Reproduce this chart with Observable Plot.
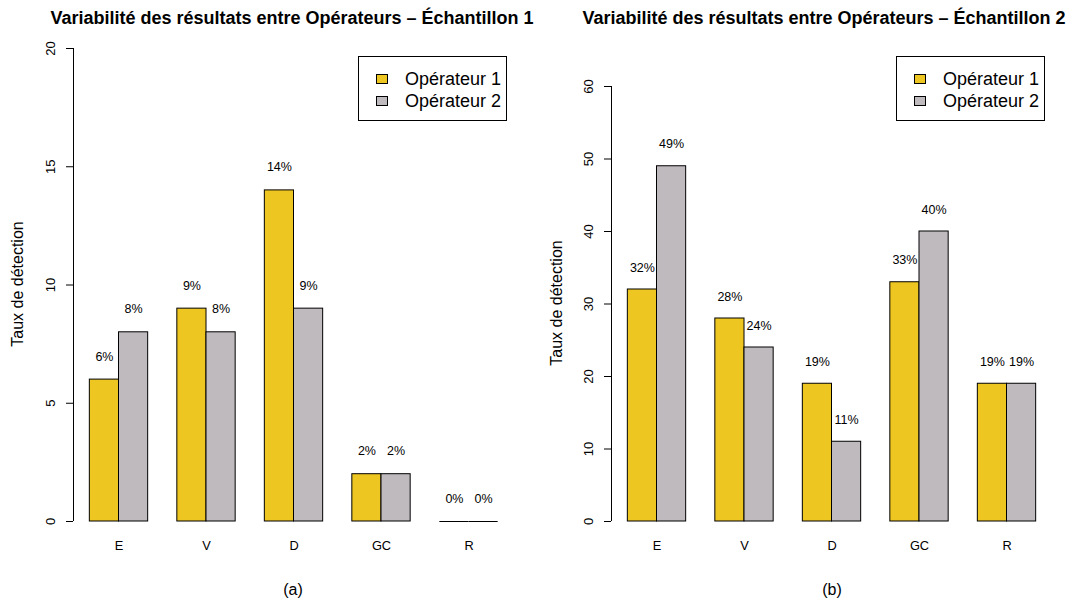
<!DOCTYPE html>
<html>
<head>
<meta charset="utf-8">
<script src="https://cdn.jsdelivr.net/npm/d3@7"></script>
<script src="https://cdn.jsdelivr.net/npm/@observablehq/plot@0.6"></script>
<style>
  body { margin: 0; background: #fff; }
  #fig { position: relative; width: 1081px; height: 604px; overflow: hidden;
         font-family: "Liberation Sans", Arial, Helvetica, sans-serif; color: #000; }
  .panel { position: absolute; top: 0; }
  .panel svg { font-family: "Liberation Sans", Arial, Helvetica, sans-serif; }
  .centered { position: absolute; white-space: nowrap; transform: translate(-50%, -50%); line-height: 1; }
  .title { font-weight: bold; font-size: 18px; }
  .ylab { font-size: 16px; transform: translate(-50%, -50%) rotate(-90deg); }
  .caption { font-size: 16px; }
  .legend { position: absolute; border: 1px solid #000; background: #fff; box-sizing: border-box; }
  .legend .item { position: absolute; left: 17px; display: flex; align-items: center; font-size: 18px; line-height: 1; }
  .legend .swatch { width: 12px; height: 10px; border: 1px solid #000; box-sizing: border-box; margin-right: 17px; }
</style>
</head>
<body>
<div id="fig"></div>
<script>
// Detection rates (%) per defect category, for each operator and each sample
const categories = ["E", "V", "D", "GC", "R"];
const operators = ["Opérateur 1", "Opérateur 2"];
const sample1Op1 = [6, 9, 14, 2, 0];
const sample1Op2 = [8, 8, 9, 2, 0];
const sample2Op1 = [32, 28, 19, 33, 19];
const sample2Op2 = [49, 24, 11, 40, 19];
const yTicks1 = [0, 5, 10, 15, 20];
const yTicks2 = [0, 10, 20, 30, 40, 50, 60];
const colors = ["#EEC622", "#BFBABE"];
const titles = [
  "Variabilité des résultats entre Opérateurs – Échantillon 1",
  "Variabilité des résultats entre Opérateurs – Échantillon 2"
];
const captions = ["(a)", "(b)"];
const yLabel = "Taux de détection";

const fig = document.getElementById("fig");

// Side-by-side bars laid out like barplot(beside = TRUE): each bar is one unit wide,
// one unit of space separates the groups.
function groupedRows(op1, op2) {
  const rows = [];
  categories.forEach((cat, i) => {
    [op1[i], op2[i]].forEach((value, j) => {
      const x1 = 1 + 3 * i + j;
      rows.push({cat, op: operators[j], value, x1, x2: x1 + 1});
    });
  });
  return rows;
}

function panel({op1, op2, yTicks, left, width, marginLeft, marginRight, marginTop, labelDy}) {
  const rows = groupedRows(op1, op2);
  const nBars = rows.length + categories.length - 1;      // bars + gaps
  const pad = 0.04 * nBars;
  const xDomain = [1 - pad, 1 + nBars + pad];
  const centers = categories.map((c, i) => 2 + 3 * i);
  const chart = Plot.plot({
    width,
    height: 604,
    marginLeft,
    marginRight,
    marginTop,
    marginBottom: 83,
    style: {background: "transparent", fontFamily: "Liberation Sans, Arial, sans-serif"},
    x: {domain: xDomain, axis: null},
    y: {domain: [yTicks[0], yTicks[yTicks.length - 1]], axis: null},
    color: {domain: operators, range: colors},
    marks: [
      Plot.rectY(rows, {x1: "x1", x2: "x2", y1: 0, y2: "value", fill: "op", stroke: "#000", strokeWidth: 1}),
      Plot.ruleY(rows.filter(d => d.value === 0), {x1: "x1", x2: "x2", y: "value", stroke: "#000", strokeWidth: 1}),
      Plot.text(rows, {x: d => (d.x1 + d.x2) / 2, y: "value", text: d => `${d.value}%`,
                       dy: labelDy, fontSize: 12.5, fill: "#000"}),
      Plot.ruleX([xDomain[0]], {y1: yTicks[0], y2: yTicks[yTicks.length - 1], stroke: "#000"}),
      Plot.axisY({ticks: yTicks, tickSize: 7, tickRotate: -90, tickPadding: 12, label: null,
                  fontSize: 13, stroke: "#000", fill: "#000"}),
      Plot.axisX({ticks: centers, tickFormat: d => categories[(d - 2) / 3], tickSize: 0, label: null,
                  tickPadding: 19, fontSize: 12.8, fill: "#000"})
    ]
  });
  const wrap = document.createElement("div");
  wrap.className = "panel";
  wrap.style.left = left + "px";
  wrap.appendChild(chart);
  fig.appendChild(wrap);
}

panel({op1: sample1Op1, op2: sample1Op2, yTicks: yTicks1, left: 0, width: 540,
       marginLeft: 73, marginRight: 26, marginTop: 48, labelDy: -23});
panel({op1: sample2Op1, op2: sample2Op2, yTicks: yTicks2, left: 540, width: 541,
       marginLeft: 71, marginRight: 29, marginTop: 86, labelDy: -22});

function addText(cls, text, x, y) {
  const el = document.createElement("div");
  el.className = "centered " + cls;
  el.textContent = text;
  el.style.left = x + "px";
  el.style.top = y + "px";
  fig.appendChild(el);
}

function addLegend(x, y) {
  const box = document.createElement("div");
  box.className = "legend";
  box.style.left = x + "px";
  box.style.top = y + "px";
  box.style.width = "149px";
  box.style.height = "65px";
  operators.forEach((op, j) => {
    const item = document.createElement("div");
    item.className = "item";
    item.style.top = (13 + 22 * j) + "px";
    const sw = document.createElement("span");
    sw.className = "swatch";
    sw.style.background = colors[j];
    const label = document.createElement("span");
    label.textContent = op;
    item.appendChild(sw);
    item.appendChild(label);
    box.appendChild(item);
  });
  fig.appendChild(box);
}

addText("title", titles[0], 292, 18);
addText("title", titles[1], 824, 18);
addText("ylab", yLabel, 18, 284);
addText("ylab", yLabel, 557, 303);
addText("caption", captions[0], 293, 590);
addText("caption", captions[1], 832, 590);
addLegend(358, 56);
addLegend(896, 56);
</script>
</body>
</html>
